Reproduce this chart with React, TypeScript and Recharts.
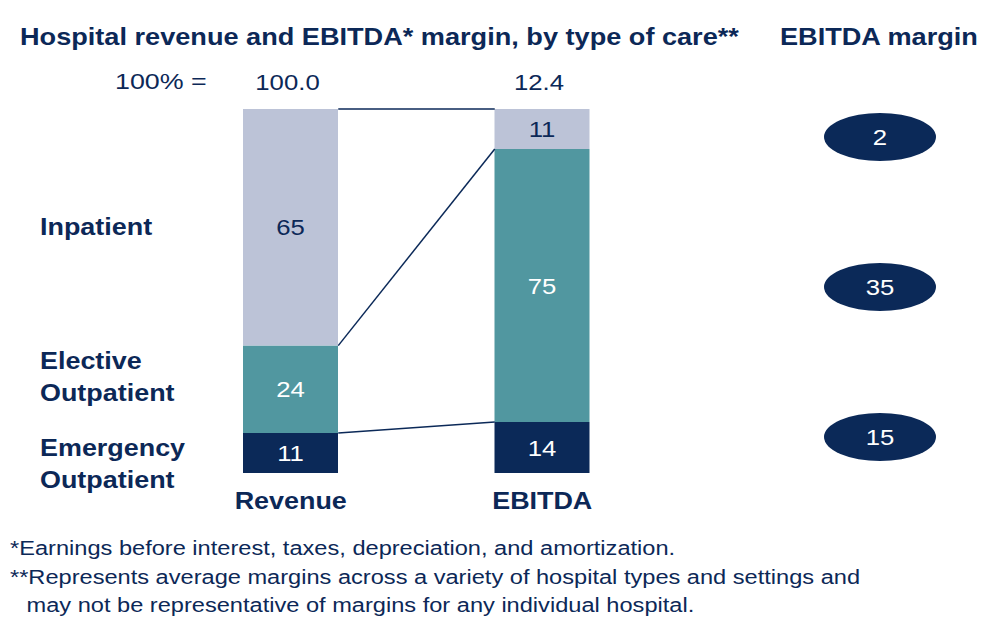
import {
	Bar,
	ComposedChart,
	LabelList,
	ReferenceLine,
	Scatter,
	ScatterChart,
	XAxis,
	YAxis,
} from "recharts";

// shares of each bar, in %
const columns = ["Revenue", "EBITDA"];
const emergencyShare = [11, 14];
const electiveShare = [24, 75];
const inpatientShare = [65, 11];
const totals = ["100.0", "12.4"];

// EBITDA margin by type of care, %
const marginRows = ["Inpatient", "Elective Outpatient", "Emergency Outpatient"];
const marginValues = [2, 35, 15];

const NAVY = "#0b2958";
const TEAL = "#5197a0";
const LIGHT = "#bcc3d7";
const TEXT = "#0c2857";
const FONT = "'Liberation Sans', Arial, Helvetica, sans-serif";
const BAR_SIZE = 95;
// the source type is set a bit wider than Arial/Helvetica
const STRETCH = 1.17;

const barData = columns.map((name, i) => ({
	name,
	emergency: emergencyShare[i],
	elective: electiveShare[i],
	inpatient: inpatientShare[i],
	total: totals[i],
}));

const marginData = marginRows.map((row, i) => ({
	row,
	col: "margin",
	margin: marginValues[i],
}));

// cumulative boundaries used for the connector lines
const stackTop = (i: number) => emergencyShare[i] + electiveShare[i] + inpatientShare[i];
const connectors = [
	[emergencyShare[0], emergencyShare[1]],
	[emergencyShare[0] + electiveShare[0], emergencyShare[1] + electiveShare[1]],
	[stackTop(0), stackTop(1)],
];

function Connector(props: any) {
	const { x1, y1, x2, y2 } = props;
	return (
		<line
			x1={x1 + BAR_SIZE / 2}
			y1={y1}
			x2={x2 - BAR_SIZE / 2}
			y2={y2}
			stroke={NAVY}
			strokeWidth={1.5}
		/>
	);
}

// centred svg text, stretched horizontally
function WideText({ x, y, color, size, bold, children }: any) {
	return (
		<g transform={`translate(${x},${y}) scale(${STRETCH},1)`}>
			<text
				x={0}
				y={0}
				textAnchor="middle"
				fill={color}
				fontFamily={FONT}
				fontWeight={bold ? "bold" : "normal"}
				fontSize={size}
			>
				{children}
			</text>
		</g>
	);
}

function ColumnTick(props: any) {
	const { x, y, payload } = props;
	return (
		<WideText x={x} y={y + 28} color={TEXT} size={23} bold>
			{payload.value}
		</WideText>
	);
}

function TotalLabel(props: any) {
	const { x, y, width, value } = props;
	return (
		<WideText x={x + width / 2 - 3} y={y - 19} color={TEXT} size={22}>
			{value}
		</WideText>
	);
}

function segmentLabel(color: string) {
	return (props: any) => {
		const { x, y, width, height, value } = props;
		return (
			<WideText x={x + width / 2} y={y + height / 2 + 8} color={color} size={22}>
				{value}
			</WideText>
		);
	};
}

function MarginEllipse(props: any) {
	const { cx, cy, payload } = props;
	return (
		<g>
			<ellipse cx={cx} cy={cy} rx={56} ry={24} fill={NAVY} />
			<WideText x={cx} y={cy + 8} color="#fff" size={22}>
				{payload.margin}
			</WideText>
		</g>
	);
}

const abs = (left: number, top: number, extra: any = {}, stretch = STRETCH) => ({
	position: "absolute" as const,
	left,
	top,
	fontFamily: FONT,
	color: TEXT,
	whiteSpace: "nowrap" as const,
	transform: `scaleX(${stretch})`,
	transformOrigin: "left top",
	...extra,
});

export default function App() {
	const bold = { fontWeight: "bold", fontSize: 23 };
	const title = { fontWeight: "bold", fontSize: 24 };
	return (
		<div
			style={{
				position: "absolute",
				left: 0,
				top: 0,
				width: 1000,
				height: 628,
				background: "#fff",
				overflow: "hidden",
			}}
		>
			<div style={abs(20, 23, title, 1.13)}>
				Hospital revenue and EBITDA* margin, by type of care**
			</div>
			<div style={abs(780, 23, title, 1.13)}>EBITDA margin</div>
			<div style={abs(115, 69, { fontSize: 22 }, 1.22)}>100% =</div>

			<div style={abs(40, 214, bold)}>Inpatient</div>
			<div style={abs(40, 345, { ...bold, lineHeight: "32px" })}>
				Elective
				<br />
				Outpatient
			</div>
			<div style={abs(40, 432, { ...bold, lineHeight: "32px" })}>
				Emergency
				<br />
				Outpatient
			</div>

			<div style={abs(10, 534, { fontSize: 20, lineHeight: "28.5px" }, 1.18)}>
				*Earnings before interest, taxes, depreciation, and amortization.
				<br />
				**Represents average margins across a variety of hospital types and settings and
				<br />
				<span style={{ paddingLeft: 14 }}>
					may not be representative of margins for any individual hospital.
				</span>
			</div>

			<div style={{ position: "absolute", left: 0, top: 0 }}>
				<ComposedChart
					width={1000}
					height={628}
					data={barData}
					margin={{ top: 109, right: 332, bottom: 0, left: 165 }}
				>
					<XAxis
						dataKey="name"
						axisLine={false}
						tickLine={false}
						tick={<ColumnTick />}
						height={155}
						interval={0}
					/>
					<YAxis hide domain={[0, 100]} type="number" />
					<Bar dataKey="emergency" stackId="a" fill={NAVY} barSize={BAR_SIZE} isAnimationActive={false}>
						<LabelList dataKey="emergency" content={segmentLabel("#fff")} />
					</Bar>
					<Bar dataKey="elective" stackId="a" fill={TEAL} barSize={BAR_SIZE} isAnimationActive={false}>
						<LabelList dataKey="elective" content={segmentLabel("#fff")} />
					</Bar>
					<Bar dataKey="inpatient" stackId="a" fill={LIGHT} barSize={BAR_SIZE} isAnimationActive={false}>
						<LabelList dataKey="inpatient" content={segmentLabel(TEXT)} />
						<LabelList dataKey="total" content={TotalLabel} />
					</Bar>
					{connectors.map(([a, b], i) => (
						<ReferenceLine
							key={i}
							segment={[
								{ x: columns[0], y: a },
								{ x: columns[1], y: b },
							]}
							ifOverflow="visible"
							shape={Connector}
						/>
					))}
				</ComposedChart>
			</div>

			<div style={{ position: "absolute", left: 800, top: 62 }}>
				<ScatterChart
					width={160}
					height={450}
					margin={{ top: 0, right: 0, bottom: 0, left: 0 }}
				>
					<XAxis dataKey="col" type="category" hide allowDuplicatedCategory={false} />
					<YAxis dataKey="row" type="category" hide allowDuplicatedCategory={false} reversed />
					<Scatter data={marginData} shape={MarginEllipse} isAnimationActive={false} />
				</ScatterChart>
			</div>
		</div>
	);
}
